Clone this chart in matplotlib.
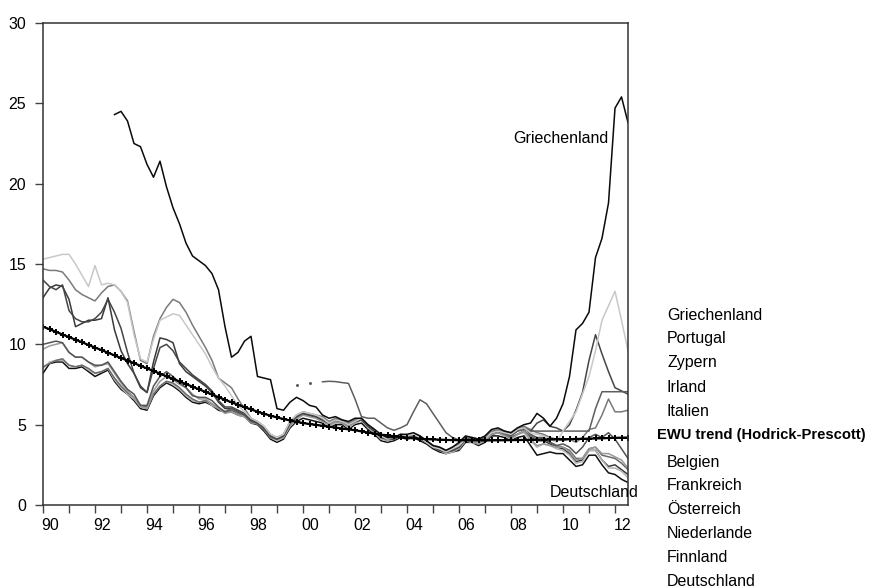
import numpy as np
import matplotlib
matplotlib.use("Agg")
import matplotlib.pyplot as plt

plt.rcParams['font.family'] = ['Liberation Sans', 'DejaVu Sans']

nan = float('nan')
start_year = 1990
n_quarters = 91  # 1990Q1 .. 2012Q3

griechenland = [nan, nan, nan, nan,
                nan, nan, nan, nan,
                nan, nan, nan, 24.3,
                24.5, 23.9, 22.5, 22.3,
                21.2, 20.4, 21.4, 19.8,
                18.5, 17.5, 16.3, 15.5,
                15.2, 14.9, 14.4, 13.4,
                11.1, 9.2, 9.5, 10.2,
                10.5, 8.0, 7.9, 7.8,
                6.0, 5.9, 6.4, 6.7,
                6.5, 6.2, 6.1, 5.6,
                5.4, 5.5, 5.3, 5.2,
                5.4, 5.4, 5.0, 4.7,
                4.4, 4.2, 4.2, 4.4,
                4.4, 4.5, 4.3, 4.0,
                3.7, 3.6, 3.4, 3.6,
                3.9, 4.3, 4.2, 4.1,
                4.3, 4.7, 4.8, 4.6,
                4.5, 4.8, 5.0, 5.1,
                5.7, 5.4, 4.9, 5.4,
                6.3, 8.0, 10.9, 11.3,
                12.0, 15.4, 16.6, 18.8,
                24.7, 25.4, 23.8]

portugal = [15.3, 15.4, 15.5, 15.6,
            15.6, 15.0, 14.3, 13.6,
            14.9, 13.7, 13.8, 13.7,
            13.3, 12.6, 10.6, 9.1,
            8.9, 10.3, 11.5, 11.7,
            11.9, 11.8, 11.2, 10.6,
            10.0, 9.4, 8.6, 7.9,
            7.4, 6.8, 6.2, 5.8,
            5.4, 5.2, 4.9, 4.4,
            4.2, 4.4, 5.2, 5.6,
            5.8, 5.7, 5.6, 5.4,
            5.1, 5.3, 5.2, 5.0,
            5.2, 5.4, 5.0, 4.7,
            4.3, 4.1, 4.2, 4.4,
            4.3, 4.4, 4.2, 3.9,
            3.6, 3.5, 3.3, 3.5,
            3.7, 4.1, 4.0, 3.9,
            4.1, 4.5, 4.6, 4.5,
            4.4, 4.7, 4.8, 4.5,
            4.4, 4.3, 4.1, 3.9,
            4.6, 5.2, 5.8, 6.9,
            8.0, 9.6, 11.5, 12.4,
            13.3, 11.5, 9.6]

zypern = [nan, nan, nan, nan,
          nan, nan, nan, nan,
          nan, nan, nan, nan,
          nan, nan, nan, nan,
          nan, nan, nan, nan,
          nan, nan, nan, nan,
          nan, nan, nan, nan,
          nan, nan, nan, nan,
          nan, nan, nan, nan,
          nan, nan, nan, 7.47,
          nan, 7.57, nan, 7.67,
          7.70, 7.68, 7.62, 7.57,
          6.6, 5.5, 5.4, 5.4,
          5.1, 4.8, 4.65, 4.8,
          5.0, 5.8, 6.55, 6.3,
          5.7, 5.1, 4.5, 4.2,
          4.05, 4.1, 4.2, 4.1,
          4.2, 4.5, 4.6, 4.5,
          4.4, 4.6, 4.7, 4.6,
          4.6, 4.6, 4.6, 4.6,
          4.6, 4.6, 4.6, 4.6,
          4.6, 6.0, 7.05, 7.05,
          7.05, 7.05, 7.05]

irland = [14.0, 13.6, 13.4, 13.7,
          12.1, 11.6, 11.4, 11.4,
          11.6, 12.0, 12.8, 12.0,
          11.0, 9.5, 8.2, 7.3,
          7.0, 8.5, 9.8, 10.0,
          9.6, 8.9, 8.5, 8.1,
          7.8, 7.5, 7.1, 6.5,
          6.1, 6.1, 5.9, 5.7,
          5.3, 5.1, 4.8, 4.3,
          4.1, 4.3, 5.1, 5.5,
          5.7, 5.6, 5.5, 5.3,
          5.1, 5.3, 5.2, 5.0,
          5.2, 5.3, 4.9, 4.6,
          4.2, 4.1, 4.1, 4.3,
          4.2, 4.3, 4.1, 3.9,
          3.6, 3.4, 3.3, 3.4,
          3.6, 4.1, 4.0, 3.9,
          4.1, 4.5, 4.6, 4.5,
          4.4, 4.7, 4.8, 4.6,
          5.1, 5.3, 4.9, 4.8,
          4.6, 5.0, 5.9, 7.0,
          9.0, 10.6, 9.4, 8.3,
          7.3, 7.1, 6.9]

italien = [14.7, 14.6, 14.6, 14.5,
           14.0, 13.4, 13.1, 12.9,
           12.7, 13.2, 13.6, 13.7,
           13.3, 12.7, 10.8, 9.0,
           8.8, 10.5, 11.6, 12.3,
           12.8, 12.6, 12.0, 11.2,
           10.5, 9.8, 9.0, 7.9,
           7.6, 7.3, 6.6, 6.0,
           5.4, 5.2, 4.9, 4.4,
           4.2, 4.4, 5.2, 5.6,
           5.8, 5.7, 5.6, 5.5,
           5.2, 5.4, 5.3, 5.1,
           5.3, 5.4, 5.0, 4.7,
           4.3, 4.2, 4.2, 4.4,
           4.3, 4.4, 4.3, 4.0,
           3.7, 3.6, 3.4, 3.6,
           3.8, 4.2, 4.1, 4.0,
           4.2, 4.6, 4.7, 4.6,
           4.5, 4.8, 4.9, 4.7,
           4.5, 4.4, 4.2, 4.1,
           4.0, 4.1, 3.9, 4.2,
           4.7, 4.8, 5.6, 6.6,
           5.8, 5.8, 5.9]

belgien = [10.0, 10.1, 10.2, 10.1,
           9.5, 9.2, 9.2, 8.9,
           8.7, 8.7, 8.9, 8.3,
           7.7, 7.2, 6.9, 6.2,
           6.2, 7.4, 8.0, 8.3,
           8.0, 7.6, 7.3, 6.8,
           6.7, 6.7, 6.5, 6.1,
           5.8, 6.0, 5.8, 5.6,
           5.2, 5.1, 4.8, 4.3,
           4.1, 4.3, 5.1, 5.5,
           5.7, 5.6, 5.5, 5.3,
           5.1, 5.3, 5.2, 5.0,
           5.2, 5.3, 4.9, 4.6,
           4.3, 4.1, 4.1, 4.3,
           4.2, 4.3, 4.2, 3.9,
           3.6, 3.5, 3.3, 3.4,
           3.6, 4.1, 4.0, 3.9,
           4.1, 4.5, 4.6, 4.5,
           4.3, 4.6, 4.8, 4.4,
           4.2, 4.2, 3.9, 3.7,
           3.8, 3.6, 3.2, 3.6,
           4.2, 4.4, 4.2, 4.5,
           4.1, 3.5, 2.9]

frankreich = [9.7, 9.9, 10.0, 10.1,
              9.5, 9.2, 9.2, 8.9,
              8.6, 8.7, 8.8, 8.2,
              7.6, 7.1, 6.7, 6.1,
              6.0, 7.1, 7.7, 8.0,
              7.8, 7.5, 7.3, 6.9,
              6.6, 6.6, 6.3, 6.0,
              5.7, 5.8, 5.6, 5.5,
              5.1, 5.1, 4.8, 4.3,
              4.1, 4.2, 5.0, 5.4,
              5.6, 5.5, 5.4, 5.2,
              5.0, 5.2, 5.1, 4.9,
              5.1, 5.3, 4.9, 4.5,
              4.2, 4.0, 4.1, 4.3,
              4.2, 4.3, 4.1, 3.9,
              3.6, 3.4, 3.3, 3.4,
              3.5, 4.0, 3.9, 3.8,
              4.0, 4.4, 4.5, 4.3,
              4.1, 4.4, 4.6, 4.1,
              3.7, 3.8, 3.7, 3.6,
              3.6, 3.3, 2.8, 2.9,
              3.5, 3.6, 3.2, 3.2,
              3.0, 2.8, 2.3]

oesterreich = [8.6, 8.8, 9.0, 9.1,
               8.7, 8.6, 8.7, 8.5,
               8.2, 8.3, 8.5, 7.9,
               7.4, 7.0, 6.7, 6.2,
               6.1, 6.9, 7.4, 7.7,
               7.6, 7.3, 6.9, 6.6,
               6.4, 6.5, 6.3, 6.0,
               5.8, 5.9, 5.7, 5.6,
               5.2, 5.0, 4.7, 4.2,
               4.1, 4.3, 5.0, 5.4,
               5.7, 5.6, 5.5, 5.3,
               5.0, 5.2, 5.1, 4.9,
               5.2, 5.3, 4.9, 4.6,
               4.2, 4.1, 4.1, 4.3,
               4.2, 4.3, 4.2, 4.0,
               3.7, 3.4, 3.3, 3.4,
               3.5, 4.0, 4.0, 3.9,
               4.0, 4.4, 4.5, 4.4,
               4.2, 4.4, 4.6, 4.3,
               4.1, 4.1, 3.9, 3.7,
               3.6, 3.4, 2.9, 2.9,
               3.5, 3.6, 3.1, 3.0,
               2.9, 2.6, 2.2]

niederlande = [8.5, 8.9, 9.0, 9.0,
               8.7, 8.6, 8.7, 8.4,
               8.2, 8.3, 8.5, 7.8,
               7.3, 6.9, 6.6, 6.1,
               6.0, 6.9, 7.4, 7.7,
               7.5, 7.2, 6.8, 6.5,
               6.4, 6.5, 6.2, 6.0,
               5.8, 5.9, 5.6, 5.5,
               5.2, 5.1, 4.7, 4.2,
               4.0, 4.2, 4.9, 5.3,
               5.6, 5.5, 5.4, 5.2,
               4.9, 5.1, 5.1, 4.8,
               5.1, 5.3, 4.8, 4.5,
               4.1, 4.0, 4.1, 4.3,
               4.2, 4.3, 4.1, 3.9,
               3.6, 3.4, 3.2, 3.3,
               3.5, 4.0, 3.9, 3.8,
               4.0, 4.4, 4.5, 4.3,
               4.1, 4.4, 4.5, 4.0,
               3.6, 3.8, 3.7, 3.5,
               3.4, 3.1, 2.6, 2.7,
               3.4, 3.4, 2.8, 2.3,
               2.3, 2.1, 1.7]

finnland = [12.9, 13.5, 13.7, 13.6,
            12.8, 11.1, 11.3, 11.5,
            11.5, 11.6, 12.9, 10.9,
            9.6, 8.8, 8.2, 7.4,
            7.0, 8.9, 10.4, 10.3,
            10.1, 8.8, 8.3, 8.0,
            7.7, 7.4, 7.0, 6.4,
            6.0, 6.0, 5.8, 5.6,
            5.3, 5.1, 4.8, 4.2,
            4.1, 4.4, 5.1, 5.5,
            5.7, 5.6, 5.5, 5.3,
            5.0, 5.2, 5.1, 4.9,
            5.2, 5.3, 4.9, 4.6,
            4.2, 4.1, 4.1, 4.3,
            4.2, 4.3, 4.1, 3.9,
            3.6, 3.4, 3.2, 3.4,
            3.5, 4.0, 4.0, 3.9,
            4.0, 4.4, 4.5, 4.4,
            4.2, 4.4, 4.6, 4.2,
            4.0, 4.0, 3.8, 3.6,
            3.5, 3.2, 2.7, 2.8,
            3.4, 3.4, 2.8, 2.4,
            2.5, 2.2, 1.9]

deutschland = [8.2, 8.8, 8.9, 8.9,
               8.5, 8.5, 8.6, 8.3,
               8.0, 8.2, 8.4, 7.7,
               7.2, 6.9, 6.5, 6.0,
               5.9, 6.8, 7.3, 7.6,
               7.4, 7.1, 6.7, 6.4,
               6.3, 6.4, 6.2, 5.9,
               5.8, 5.8, 5.6, 5.5,
               5.1, 5.0, 4.6, 4.1,
               3.9, 4.1, 4.8, 5.2,
               5.4, 5.3, 5.2, 5.1,
               4.8, 5.0, 5.0, 4.7,
               5.0, 5.1, 4.7, 4.4,
               4.0, 3.9, 4.0, 4.2,
               4.1, 4.2, 4.0, 3.8,
               3.5, 3.3, 3.2, 3.3,
               3.4, 3.9, 3.9, 3.7,
               3.9, 4.3, 4.3, 4.2,
               4.0, 4.2, 4.3, 3.7,
               3.1, 3.2, 3.3, 3.2,
               3.2, 2.8, 2.4, 2.5,
               3.1, 3.1, 2.5, 2.0,
               1.9, 1.6, 1.4]

ewu_trend = [11.10, 10.94, 10.78, 10.61,
             10.45, 10.29, 10.13, 9.96,
             9.80, 9.64, 9.48, 9.31,
             9.15, 8.99, 8.83, 8.66,
             8.50, 8.34, 8.18, 8.01,
             7.85, 7.69, 7.53, 7.36,
             7.20, 7.04, 6.88, 6.71,
             6.55, 6.39, 6.24, 6.09,
             5.95, 5.81, 5.68, 5.56,
             5.45, 5.35, 5.26, 5.18,
             5.10, 5.04, 4.99, 4.93,
             4.88, 4.82, 4.76, 4.71,
             4.65, 4.58, 4.51, 4.44,
             4.38, 4.33, 4.28, 4.23,
             4.18, 4.15, 4.12, 4.10,
             4.08, 4.07, 4.05, 4.04,
             4.03, 4.03, 4.02, 4.02,
             4.02, 4.02, 4.03, 4.03,
             4.04, 4.04, 4.05, 4.05,
             4.06, 4.07, 4.08, 4.08,
             4.09, 4.10, 4.11, 4.12,
             4.13, 4.14, 4.15, 4.17,
             4.18, 4.19, 4.20]

legend_top = ["Griechenland", "Portugal", "Zypern", "Irland", "Italien"]
legend_trend = "EWU trend (Hodrick-Prescott)"
legend_bottom = ["Belgien", "Frankreich", "Österreich", "Niederlande", "Finnland", "Deutschland"]

year_ticks = list(range(1990, 2013))
year_labels = ["90", "92", "94", "96", "98", "00", "02", "04", "06", "08", "10", "12"]

# ---------------------------------------------------------------
x = start_year + np.arange(n_quarters) / 4.0
W, H = 870, 588

fig = plt.figure(figsize=(8.7, 5.88), dpi=100)
ax = fig.add_axes([43 / W, 1 - 505 / H, (628 - 43) / W, (505 - 23) / H])

series = [
    (deutschland, "#111111"),
    (finnland, "#3a3a3a"),
    (niederlande, "#b4b4b4"),
    (oesterreich, "#6a6a6a"),
    (frankreich, "#9a9a9a"),
    (belgien, "#555555"),
    (italien, "#7a7a7a"),
    (irland, "#454545"),
    (zypern, "#5e5e5e"),
    (portugal, "#c8c8c8"),
    (griechenland, "#0a0a0a"),
]

for vals, col in series:
    v = np.array(vals, dtype=float)
    ax.plot(x, v, color=col, lw=1.1, solid_joinstyle='round')
    for i in range(len(v)):
        if not np.isnan(v[i]):
            prev_nan = i == 0 or np.isnan(v[i - 1])
            next_nan = i == len(v) - 1 or np.isnan(v[i + 1])
            if prev_nan and next_nan:
                ax.plot(x[i], v[i], 'o', color=col, ms=2.2, mec='none')

ax.plot(x, ewu_trend, color='black', lw=1.6, marker='+', ms=4.5, mew=1.4)

ax.set_xlim(1990, 2012.5)
ax.set_ylim(0, 30)
ax.set_yticks([0, 5, 10, 15, 20, 25, 30])
ax.set_xticks(year_ticks)
ax.set_xticklabels([])
label_pos = [(1900 if int(l) > 50 else 2000) + int(l) + 0.28 for l in year_labels]
ax.set_xticks(label_pos, year_labels, minor=True)

FS = 11.5
ax.tick_params(axis='y', direction='out', length=5.5, width=1.0, color='#444444',
               labelsize=FS, pad=6.5)
ax.tick_params(axis='x', which='major', direction='out', length=5.8, width=1.0, color='#444444')
ax.tick_params(axis='x', which='minor', length=0, labelsize=FS, pad=9.5)
ax.tick_params(right=False, top=False)

for s in ax.spines.values():
    s.set_color('#333333')
    s.set_linewidth(1.1)

ax.text(2008.08, 22.84, "Griechenland", fontsize=FS, va='center', ha='left')
ax.text(2009.5, 0.8, "Deutschland", fontsize=FS, va='center', ha='left', clip_on=False)

ys_top = [315, 339, 363, 387, 411]
for name, yy in zip(legend_top, ys_top):
    fig.text(667 / W, 1 - yy / H, name, fontsize=FS, va='center', ha='left')
trend_txt = fig.text(657 / W, 1 - 435 / H, legend_trend, fontsize=FS, fontweight='bold',
                     va='center', ha='left')
ys_bot = [462, 486, 510, 534, 558, 581]
for name, yy in zip(legend_bottom, ys_bot):
    fig.text(667 / W, 1 - yy / H, name, fontsize=FS, va='center', ha='left')

# fit the bold trend label into the width it has in the original (about 210 px)
fig.canvas.draw()
r = fig.canvas.get_renderer()
w = trend_txt.get_window_extent(r).width
trend_txt.set_fontsize(FS * 209.0 / w)

fig.savefig("out.png", dpi=100)
